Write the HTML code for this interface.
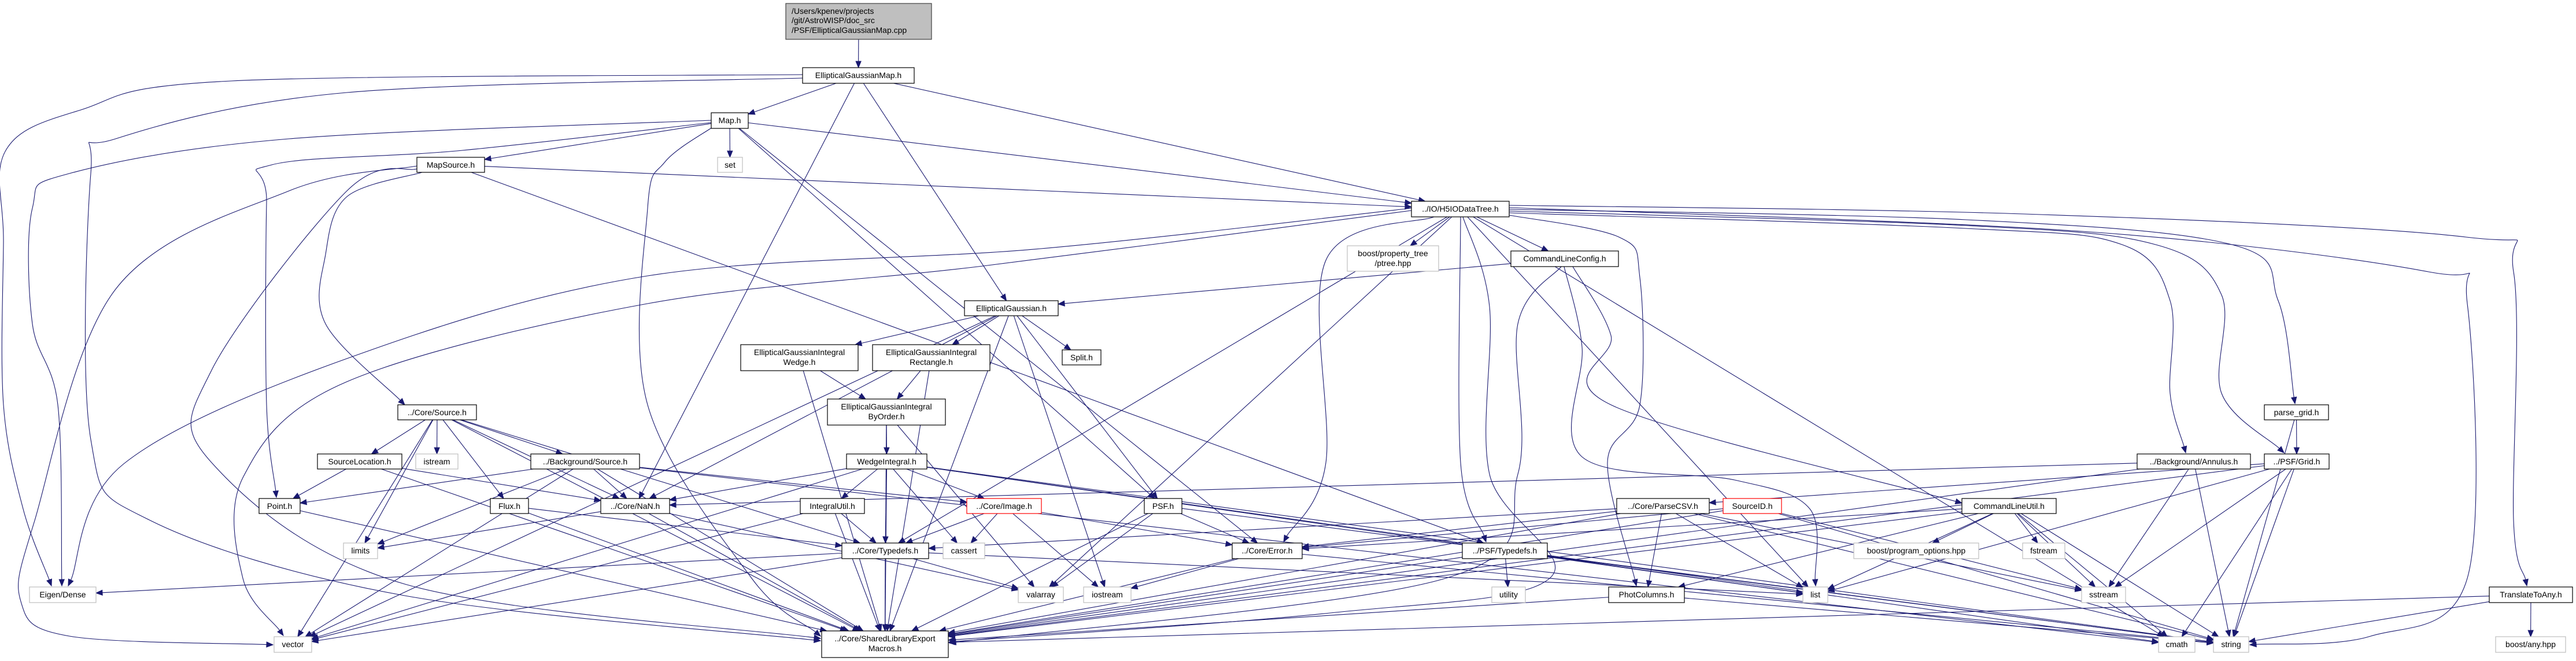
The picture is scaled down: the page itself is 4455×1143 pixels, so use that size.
<!DOCTYPE html>
<html><head><meta charset="utf-8">
<style>
html,body{margin:0;padding:0;background:#fff;}
svg{display:block;}
text{font-family:"Liberation Sans",Arial,sans-serif;font-size:14px;fill:#000;}
</style></head>
<body>
<svg id="g" xmlns="http://www.w3.org/2000/svg" width="4455" height="1143" viewBox="0 0 4455 1143">
<g id="edges" stroke="#191970" stroke-width="1.1" fill="none"></g>
<g id="arrows" fill="#191970" stroke="#191970" stroke-width="1"></g>
<g id="nodes">
<rect x="1359" y="6" width="252" height="62" fill="#bfbfbf" stroke="#404040" stroke-width="1.2"/>
<text x="1369" y="24">/Users/kpenev/projects</text>
<text x="1369" y="40">/git/AstroWISP/doc_src</text>
<text x="1369" y="57">/PSF/EllipticalGaussianMap.cpp</text>

<rect x="1388" y="117" width="193" height="27" fill="#fff" stroke="#000" stroke-width="1.2"/><text x="1484.5" y="135" text-anchor="middle">EllipticalGaussianMap.h</text>
<rect x="1230" y="195" width="64" height="27" fill="#fff" stroke="#000" stroke-width="1.2"/><text x="1262" y="213" text-anchor="middle">Map.h</text>
<rect x="1241" y="272" width="43" height="26" fill="#fff" stroke="#bfbfbf" stroke-width="1.2"/><text x="1262.5" y="290" text-anchor="middle">set</text>
<rect x="721" y="272" width="117" height="26" fill="#fff" stroke="#000" stroke-width="1.2"/><text x="779.5" y="290" text-anchor="middle">MapSource.h</text>
<rect x="2441" y="348" width="169" height="27" fill="#fff" stroke="#000" stroke-width="1.2"/><text x="2525.5" y="366" text-anchor="middle">../IO/H5IODataTree.h</text>
<rect x="2330" y="425" width="158" height="44" fill="#fff" stroke="#bfbfbf" stroke-width="1.2"/><text x="2409" y="443" text-anchor="middle">boost/property_tree</text><text x="2409" y="460" text-anchor="middle">/ptree.hpp</text>
<rect x="2613" y="434" width="186" height="27" fill="#fff" stroke="#000" stroke-width="1.2"/><text x="2706" y="452" text-anchor="middle">CommandLineConfig.h</text>
<rect x="1668" y="520" width="162" height="26" fill="#fff" stroke="#000" stroke-width="1.2"/><text x="1749" y="538" text-anchor="middle">EllipticalGaussian.h</text>
<rect x="1281" y="596" width="203" height="45" fill="#fff" stroke="#000" stroke-width="1.2"/><text x="1382.5" y="614" text-anchor="middle">EllipticalGaussianIntegral</text><text x="1382.5" y="631" text-anchor="middle">Wedge.h</text>
<rect x="1509" y="596" width="203" height="45" fill="#fff" stroke="#000" stroke-width="1.2"/><text x="1610.5" y="614" text-anchor="middle">EllipticalGaussianIntegral</text><text x="1610.5" y="631" text-anchor="middle">Rectangle.h</text>
<rect x="1837" y="605" width="67" height="26" fill="#fff" stroke="#000" stroke-width="1.2"/><text x="1870.5" y="623" text-anchor="middle">Split.h</text>
<rect x="1431" y="690" width="204" height="45" fill="#fff" stroke="#000" stroke-width="1.2"/><text x="1533" y="708" text-anchor="middle">EllipticalGaussianIntegral</text><text x="1533" y="725" text-anchor="middle">ByOrder.h</text>
<rect x="688" y="700" width="136" height="26" fill="#fff" stroke="#000" stroke-width="1.2"/><text x="756" y="718" text-anchor="middle">../Core/Source.h</text>
<rect x="3916" y="700" width="111" height="26" fill="#fff" stroke="#000" stroke-width="1.2"/><text x="3971.5" y="718" text-anchor="middle">parse_grid.h</text>
<rect x="549" y="785" width="146" height="26" fill="#fff" stroke="#000" stroke-width="1.2"/><text x="622" y="803" text-anchor="middle">SourceLocation.h</text>
<rect x="719" y="785" width="73" height="26" fill="#fff" stroke="#bfbfbf" stroke-width="1.2"/><text x="755.5" y="803" text-anchor="middle">istream</text>
<rect x="918" y="785" width="188" height="26" fill="#fff" stroke="#000" stroke-width="1.2"/><text x="1012" y="803" text-anchor="middle">../Background/Source.h</text>
<rect x="1464" y="785" width="139" height="26" fill="#fff" stroke="#000" stroke-width="1.2"/><text x="1533.5" y="803" text-anchor="middle">WedgeIntegral.h</text>
<rect x="3696" y="785" width="196" height="26" fill="#fff" stroke="#000" stroke-width="1.2"/><text x="3794" y="803" text-anchor="middle">../Background/Annulus.h</text>
<rect x="3916" y="785" width="112" height="26" fill="#fff" stroke="#000" stroke-width="1.2"/><text x="3972" y="803" text-anchor="middle">../PSF/Grid.h</text>
<rect x="448" y="862" width="71" height="26" fill="#fff" stroke="#000" stroke-width="1.2"/><text x="483.5" y="880" text-anchor="middle">Point.h</text>
<rect x="848" y="862" width="66" height="26" fill="#fff" stroke="#000" stroke-width="1.2"/><text x="881" y="880" text-anchor="middle">Flux.h</text>
<rect x="1039" y="862" width="119" height="26" fill="#fff" stroke="#000" stroke-width="1.2"/><text x="1098.5" y="880" text-anchor="middle">../Core/NaN.h</text>
<rect x="1384" y="862" width="111" height="26" fill="#fff" stroke="#000" stroke-width="1.2"/><text x="1439.5" y="880" text-anchor="middle">IntegralUtil.h</text>
<rect x="1672" y="862" width="129" height="26" fill="#fff" stroke="#ff0000" stroke-width="1.2"/><text x="1736.5" y="880" text-anchor="middle">../Core/Image.h</text>
<rect x="1979" y="862" width="65" height="26" fill="#fff" stroke="#000" stroke-width="1.2"/><text x="2011.5" y="880" text-anchor="middle">PSF.h</text>
<rect x="2796" y="862" width="160" height="26" fill="#fff" stroke="#000" stroke-width="1.2"/><text x="2876" y="880" text-anchor="middle">../Core/ParseCSV.h</text>
<rect x="2980" y="862" width="101" height="26" fill="#fff" stroke="#ff0000" stroke-width="1.2"/><text x="3030.5" y="880" text-anchor="middle">SourceID.h</text>
<rect x="3393" y="862" width="163" height="26" fill="#fff" stroke="#000" stroke-width="1.2"/><text x="3474.5" y="880" text-anchor="middle">CommandLineUtil.h</text>
<rect x="594" y="939" width="59" height="27" fill="#fff" stroke="#bfbfbf" stroke-width="1.2"/><text x="623.5" y="957" text-anchor="middle">limits</text>
<rect x="1456" y="939" width="150" height="27" fill="#fff" stroke="#000" stroke-width="1.2"/><text x="1531" y="957" text-anchor="middle">../Core/Typedefs.h</text>
<rect x="1631" y="939" width="72" height="27" fill="#fff" stroke="#bfbfbf" stroke-width="1.2"/><text x="1667" y="957" text-anchor="middle">cassert</text>
<rect x="2131" y="939" width="121" height="27" fill="#fff" stroke="#000" stroke-width="1.2"/><text x="2191.5" y="957" text-anchor="middle">../Core/Error.h</text>
<rect x="2529" y="939" width="147" height="27" fill="#fff" stroke="#000" stroke-width="1.2"/><text x="2602.5" y="957" text-anchor="middle">../PSF/Typedefs.h</text>
<rect x="3206" y="939" width="216" height="27" fill="#fff" stroke="#bfbfbf" stroke-width="1.2"/><text x="3314" y="957" text-anchor="middle">boost/program_options.hpp</text>
<rect x="3498" y="939" width="73" height="27" fill="#fff" stroke="#bfbfbf" stroke-width="1.2"/><text x="3534.5" y="957" text-anchor="middle">fstream</text>
<rect x="51" y="1015" width="115" height="27" fill="#fff" stroke="#bfbfbf" stroke-width="1.2"/><text x="108.5" y="1033" text-anchor="middle">Eigen/Dense</text>
<rect x="1761" y="1015" width="78" height="27" fill="#fff" stroke="#bfbfbf" stroke-width="1.2"/><text x="1800" y="1033" text-anchor="middle">valarray</text>
<rect x="1874" y="1015" width="82" height="27" fill="#fff" stroke="#bfbfbf" stroke-width="1.2"/><text x="1915" y="1033" text-anchor="middle">iostream</text>
<rect x="2580" y="1015" width="58" height="27" fill="#fff" stroke="#bfbfbf" stroke-width="1.2"/><text x="2609" y="1033" text-anchor="middle">utility</text>
<rect x="2782" y="1015" width="131" height="27" fill="#fff" stroke="#000" stroke-width="1.2"/><text x="2847.5" y="1033" text-anchor="middle">PhotColumns.h</text>
<rect x="3118" y="1015" width="43" height="27" fill="#fff" stroke="#bfbfbf" stroke-width="1.2"/><text x="3139.5" y="1033" text-anchor="middle">list</text>
<rect x="3600" y="1015" width="76" height="27" fill="#fff" stroke="#bfbfbf" stroke-width="1.2"/><text x="3638" y="1033" text-anchor="middle">sstream</text>
<rect x="4305" y="1015" width="144" height="27" fill="#fff" stroke="#000" stroke-width="1.2"/><text x="4377" y="1033" text-anchor="middle">TranslateToAny.h</text>
<rect x="1421" y="1091" width="219" height="46" fill="#fff" stroke="#000" stroke-width="1.2"/><text x="1530.5" y="1109" text-anchor="middle">../Core/SharedLibraryExport</text><text x="1530.5" y="1126" text-anchor="middle">Macros.h</text>
<rect x="474" y="1101" width="65" height="27" fill="#fff" stroke="#bfbfbf" stroke-width="1.2"/><text x="506.5" y="1119" text-anchor="middle">vector</text>
<rect x="3733" y="1101" width="63" height="27" fill="#fff" stroke="#bfbfbf" stroke-width="1.2"/><text x="3764.5" y="1119" text-anchor="middle">cmath</text>
<rect x="3828" y="1101" width="61" height="27" fill="#fff" stroke="#bfbfbf" stroke-width="1.2"/><text x="3858.5" y="1119" text-anchor="middle">string</text>
<rect x="4316" y="1101" width="121" height="27" fill="#fff" stroke="#bfbfbf" stroke-width="1.2"/><text x="4376.5" y="1119" text-anchor="middle">boost/any.hpp</text>
</g>
</svg>
<script>
var N={
root:[1359,6,1611,68],egmap:[1388,117,1581,144],map:[1230,195,1294,222],set:[1241,272,1284,298],
mapsrc:[721,272,838,298],h5:[2441,348,2610,375],ptree:[2330,425,2488,469],clc:[2613,434,2799,461],
eg:[1668,520,1830,546],egiw:[1281,596,1484,641],egir:[1509,596,1712,641],split:[1837,605,1904,631],
byorder:[1431,690,1635,735],source:[688,700,824,726],pgrid:[3916,700,4027,726],srcloc:[549,785,695,811],
istream:[719,785,792,811],bgsrc:[918,785,1106,811],wedge:[1464,785,1603,811],annulus:[3696,785,3892,811],
grid:[3916,785,4028,811],point:[448,862,519,888],flux:[848,862,914,888],nan:[1039,862,1158,888],
iutil:[1384,862,1495,888],image:[1672,862,1801,888],psf:[1979,862,2044,888],parsecsv:[2796,862,2956,888],
srcid:[2980,862,3081,888],clu:[3393,862,3556,888],limits:[594,939,653,966],typedefs:[1456,939,1606,966],
cassert:[1631,939,1703,966],error:[2131,939,2252,966],psftd:[2529,939,2676,966],progopt:[3206,939,3422,966],
fstream:[3498,939,3571,966],eigen:[51,1015,166,1042],valarray:[1761,1015,1839,1042],iostream:[1874,1015,1956,1042],
utility:[2580,1015,2638,1042],photcol:[2782,1015,2913,1042],list:[3118,1015,3161,1042],sstream:[3600,1015,3676,1042],
tta:[4305,1015,4449,1042],shared:[1421,1091,1640,1137],vector:[474,1101,539,1128],cmath:[3733,1101,3796,1128],
string:[3828,1101,3889,1128],anyhpp:[4316,1101,4437,1128]};
var E={
root:"egmap",egmap:"map eg h5 nan shared eigen",map:"set mapsrc h5 psf error point eigen shared",
mapsrc:"h5 source vector shared psftd",
h5:"ptree clc eigen vector shared typedefs valarray error psftd photcol list string annulus grid pgrid tta cmath",
clc:"eg shared list clu",eg:"egiw egir split psf iostream shared nan vector",egiw:"byorder shared",egir:"byorder shared",
byorder:"wedge shared valarray",wedge:"iutil typedefs cassert shared vector list cmath string nan image",
iutil:"typedefs shared vector",image:"typedefs cassert iostream error",psf:"error valarray shared string",
typedefs:"valarray shared eigen vector list",error:"shared iostream string",
source:"srcloc istream bgsrc flux nan vector shared limits typedefs",srcloc:"point nan shared",
bgsrc:"point nan limits vector image shared cmath",point:"shared",flux:"shared typedefs",nan:"limits shared valarray",
parsecsv:"error photcol list string sstream shared typedefs",srcid:"error string shared sstream",
psftd:"utility shared list string",photcol:"shared string",pgrid:"grid string",annulus:"nan shared sstream string",
grid:"parsecsv shared sstream list string cmath",clu:"progopt fstream sstream list cmath string shared error photcol",
tta:"anyhpp shared string"};
/* explicit routes: [start, waypoints..., end] */
var R={
"egmap>eigen":[[1388,129],[400,140],[140,190],[10,260],[6,420],[6,700],[40,880],[89,1013]],
"egmap>shared":[[1388,135],[600,160],[200,240],[157,300],[157,760],[260,900],[700,1030],[1419,1108]],
"map>eigen":[[1230,208],[500,240],[120,300],[56,360],[56,560],[100,700],[107,1013]],
"map>point":[[1230,212],[800,260],[470,285],[461,350],[461,700],[478,860]],
"map>shared":[[1232,220],[1150,280],[1120,360],[1120,700],[1300,1000],[1419,1100]],
"mapsrc>vector":[[721,287],[500,330],[200,500],[60,900],[36,1040],[120,1100],[472,1115]],
"mapsrc>shared":[[721,292],[600,330],[366,640],[366,800],[700,1010],[1419,1104]],
"mapsrc>source":[[730,298],[600,340],[563,440],[563,560],[700,700]],
"h5>eigen":[[2441,360],[1800,430],[1120,477],[600,620],[214,802],[118,1013]],
"h5>vector":[[2441,364],[1700,460],[1120,525],[600,660],[421,824],[420,1000],[490,1099]],
"h5>tta":[[2610,355],[3500,370],[4265,410],[4347,470],[4347,900],[4370,1013]],
"h5>string":[[2610,359],[3600,400],[4200,470],[4267,525],[4267,1000],[4100,1100],[3891,1115]],
"h5>pgrid":[[2610,362],[3400,380],[3860,423],[3940,520],[3969,698]],
"h5>grid":[[2610,365],[3400,390],[3728,423],[3842,510],[3842,680],[3950,783]],
"h5>annulus":[[2610,368],[3400,395],[3670,423],[3753,520],[3753,680],[3780,783]],
"h5>psftd":[[2526,375],[2526,800],[2570,937]],
"h5>photcol":[[2610,372],[2800,410],[2836,480],[2836,700],[2780,800],[2830,1013]],
"h5>shared":[[2530,375],[2576,530],[2576,820],[2680,1000],[2300,1060],[1642,1110]],
"h5>error":[[2480,375],[2293,450],[2293,800],[2220,937]],
"clc>shared":[[2700,461],[2625,560],[2625,820],[2500,1000],[1642,1112]],
"clc>list":[[2705,461],[2736,600],[2736,790],[3000,830],[3130,880],[3140,1013]],
"clc>clu":[[2720,461],[2786,580],[2786,700],[3393,870]]
};
function clip(r,cx,cy,dx,dy){var hw=(r[2]-r[0])/2,hh=(r[3]-r[1])/2;var t=1e9;
 if(dx!==0)t=Math.min(t,hw/Math.abs(dx)); if(dy!==0)t=Math.min(t,hh/Math.abs(dy)); return [cx+dx*t,cy+dy*t];}
var ns="http://www.w3.org/2000/svg",ge=document.getElementById("edges"),ga=document.getElementById("arrows");
function arrow(q,fx,fy){var L=Math.hypot(q[0]-fx,q[1]-fy);var ux=(q[0]-fx)/L,uy=(q[1]-fy)/L;
 var ex=q[0]-ux*11,ey=q[1]-uy*11;var px=-uy,py=ux;var pg=document.createElementNS(ns,"polygon");
 pg.setAttribute("points",q[0]+","+q[1]+" "+(ex+px*4.5)+","+(ey+py*4.5)+" "+(ex-px*4.5)+","+(ey-py*4.5));ga.appendChild(pg);
 return [ex,ey];}
function smooth(P){var d="M"+P[0][0]+","+P[0][1];
 for(var i=0;i<P.length-1;i++){var p0=P[i-1]||P[i],p1=P[i],p2=P[i+1],p3=P[i+2]||P[i+1];
  var c1=[p1[0]+(p2[0]-p0[0])/6,p1[1]+(p2[1]-p0[1])/6],c2=[p2[0]-(p3[0]-p1[0])/6,p2[1]-(p3[1]-p1[1])/6];
  d+="C"+c1[0]+","+c1[1]+" "+c2[0]+","+c2[1]+" "+p2[0]+","+p2[1];}
 return d;}
for(var s in E){E[s].split(" ").forEach(function(t){
 var key=s+">"+t;var pa=document.createElementNS(ns,"path");
 if(R[key]){var P=R[key].map(function(p){return p.slice();});var n=P.length;var q=P[n-1];
  var e=arrow(q,P[n-2][0],P[n-2][1]);P[n-1]=e;pa.setAttribute("d",smooth(P));ge.appendChild(pa);return;}
 var a=N[s],b=N[t];
 var ax=(a[0]+a[2])/2,ay=(a[1]+a[3])/2,bx=(b[0]+b[2])/2,by=(b[1]+b[3])/2;
 var dx=bx-ax,dy=by-ay;var p=clip(a,ax,ay,dx,dy),q=clip(b,bx,by,-dx,-dy);
 var e=arrow(q,p[0],p[1]);
 pa.setAttribute("d","M"+p[0]+","+p[1]+"L"+e[0]+","+e[1]);ge.appendChild(pa);
});}
</script>
</body></html>
